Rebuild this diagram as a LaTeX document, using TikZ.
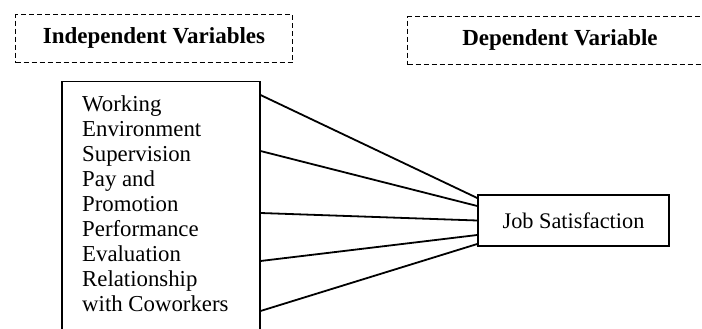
\documentclass[tikz,border=0pt]{standalone}
\usepackage{fontspec}
\setmainfont{Liberation Serif}
\usetikzlibrary{calc}
\begin{document}
\begin{tikzpicture}[x=1pt,y=-1pt,
  dashbox/.style={draw, dash pattern=on 5pt off 3pt, line width=1.1pt, inner sep=0pt, rectangle},
  hdr/.style={font=\fontsize{23}{25}\selectfont\bfseries, inner sep=0pt},
  solidbox/.style={draw, line width=1.5pt, rectangle, inner sep=0pt},
  body/.style={font=\fontsize{22.8}{25}\selectfont, inner sep=0pt},
  link/.style={line width=1.8pt}]
\clip (0,0) rectangle (702,329);
% headers
\node[dashbox, minimum width=277pt, minimum height=48pt, anchor=north west] (ivh) at (15,14) {};
\node[hdr] (ivt) at (154,38) {Independent Variables};
\node[dashbox, minimum width=310pt, minimum height=48pt, anchor=north west] (dvh) at (407,16) {};
\node[hdr] (dvt) at (560,40) {Dependent Variable};
% independent variables box
\node[solidbox, minimum width=198pt, minimum height=270pt, anchor=north west] (iv) at (61,81) {};
\node[body, align=left, anchor=north west] (ivtext) at (82,95.5) {Working\\Environment\\Supervision\\Pay and\\Promotion\\Performance\\Evaluation\\Relationship\\with Coworkers};
% dependent variable box
\node[solidbox, minimum width=191pt, minimum height=51pt, body, font=\fontsize{22.3}{25}\selectfont] (js) at (573.5,220.5) {Job Satisfaction};
% connectors
\coordinate (l1) at ($(iv.north east)+(0,14)$);
\coordinate (l2) at ($(iv.north east)+(0,70)$);
\coordinate (l3) at ($(iv.north east)+(0,132)$);
\coordinate (l4) at ($(iv.north east)+(0,180)$);
\coordinate (l5) at ($(iv.north east)+(0,230)$);
\draw[link] (l1) -- ($(js.west)+(0,-22.5)$);
\draw[link] (l2) -- ($(js.west)+(0,-14.5)$);
\draw[link] (l3) -- ($(js.west)+(0,0)$);
\draw[link] (l4) -- ($(js.west)+(0,14.5)$);
\draw[link] (l5) -- ($(js.west)+(0,23.5)$);
\end{tikzpicture}
\end{document}
